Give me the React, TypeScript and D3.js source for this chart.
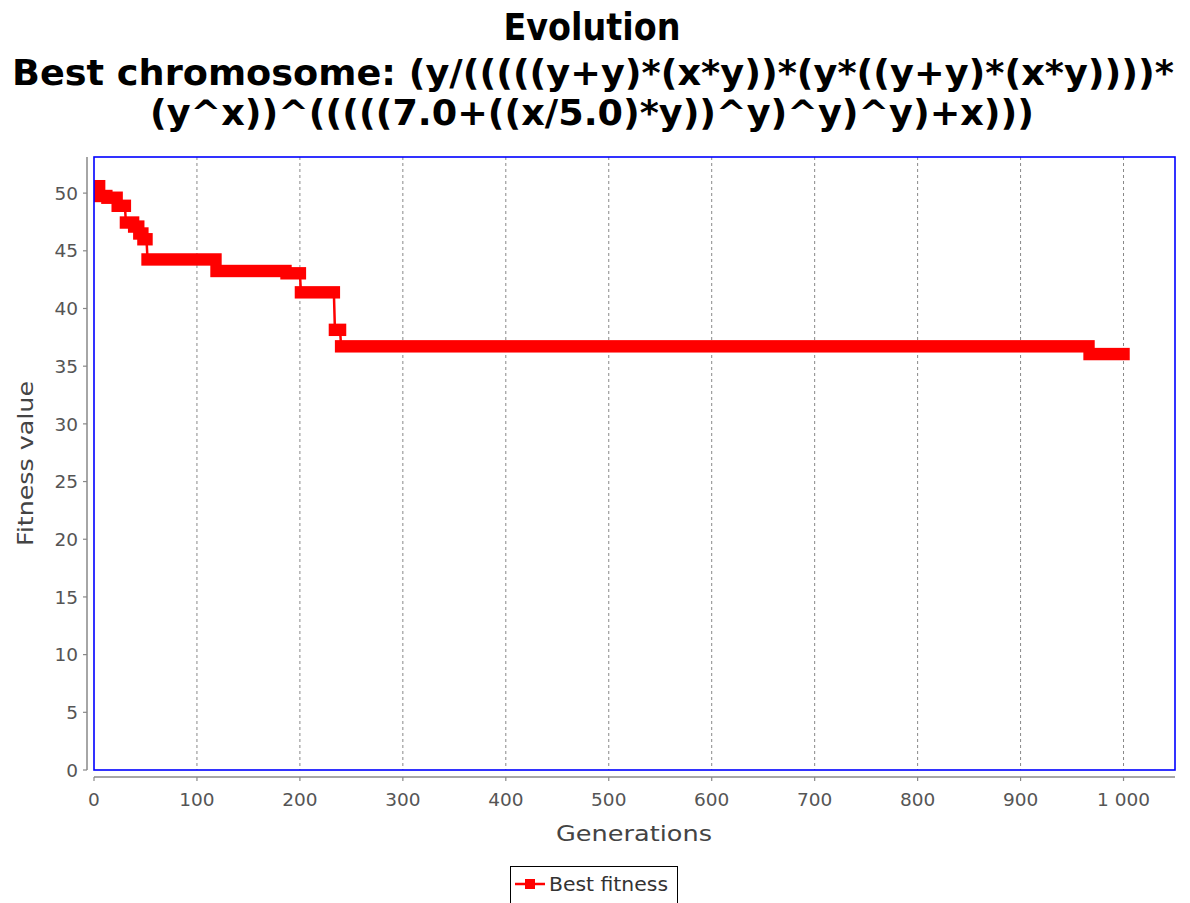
import React from "react";
import * as d3 from "d3";

// Best-fitness history: each entry starts a run of generations holding the same value
const stepStarts = [0, 6, 13, 23, 31, 39, 44, 48, 52, 119, 187, 201, 234, 240, 967];
const stepValues = [50.6, 49.75, 49.6, 48.9, 47.45, 47.1, 46.5, 46.0, 44.25, 43.25, 43.05, 41.4, 38.15, 36.72, 36.05];
const lastGeneration = 1000;

const xTicks = [0, 100, 200, 300, 400, 500, 600, 700, 800, 900, 1000];
const yTicks = [0, 5, 10, 15, 20, 25, 30, 35, 40, 45, 50];

const titleLines = [
  "Evolution",
  "Best chromosome: (y/(((((y+y)*(x*y))*(y*((y+y)*(x*y))))*",
  "(y^x))^(((((7.0+((x/5.0)*y))^y)^y)^y)+x)))",
];
const seriesName = "Best fitness";

const W = 1190;
const H = 903;
const plot = { left: 94, right: 1175, top: 157, bottom: 770 };

const spaceLocale = d3.formatLocale({
  decimal: ".",
  thousands: " ",
  grouping: [3],
  currency: ["", ""],
});
const fmtX = spaceLocale.format(",d");

export default function App() {
  const x = d3.scaleLinear().domain([0, 1050]).range([plot.left, plot.right]);
  const yMax = d3.max(stepValues)! * 1.05;
  const y = d3.scaleLinear().domain([0, yMax]).range([plot.bottom, plot.top]);

  const segments = stepStarts.map((s, i) => ({
    start: s,
    end: i < stepStarts.length - 1 ? stepStarts[i + 1] - 1 : lastGeneration,
    value: stepValues[i],
  }));

  const pts: [number, number][] = [];
  segments.forEach((sg) => {
    pts.push([sg.start, sg.value]);
    pts.push([sg.end, sg.value]);
  });
  const line = d3
    .line<[number, number]>()
    .x((d) => x(d[0]))
    .y((d) => y(d[1]));

  const half = 6.2;
  const fontTick = "'DejaVu Sans', sans-serif";
  const axisY = 777;
  const axisX = 87;

  return (
    <svg
      width={W}
      height={H}
      style={{ position: "absolute", left: 0, top: 0, display: "block", background: "#fff" }}
    >
      <rect x={0} y={0} width={W} height={H} fill="#fff" />
      {/* titles */}
      <g fontFamily="'DejaVu Sans', sans-serif" fontWeight="bold" fill="#000" textAnchor="middle">
        <text x={592} y={40} fontSize={37} textLength={177} lengthAdjust="spacingAndGlyphs">
          {titleLines[0]}
        </text>
        <text x={593} y={85} fontSize={36} textLength={1162} lengthAdjust="spacingAndGlyphs">
          {titleLines[1]}
        </text>
        <text x={592} y={125} fontSize={36} textLength={884} lengthAdjust="spacingAndGlyphs">
          {titleLines[2]}
        </text>
      </g>

      {/* vertical gridlines */}
      {xTicks
        .filter((t) => t > 0)
        .map((t) => (
          <line
            key={"g" + t}
            x1={x(t)}
            x2={x(t)}
            y1={plot.top}
            y2={plot.bottom}
            stroke="#888"
            strokeWidth={1}
            strokeDasharray="3,3"
          />
        ))}

      {/* series */}
      <defs>
        <clipPath id="plotClip">
          <rect x={plot.left} y={plot.top} width={plot.right - plot.left} height={plot.bottom - plot.top} />
        </clipPath>
      </defs>
      <g clipPath="url(#plotClip)">
        <path d={line(pts) || ""} fill="none" stroke="#ff0000" strokeWidth={2.5} />
        {segments.map((sg, i) => (
          <rect
            key={"s" + i}
            x={x(sg.start) - half}
            y={y(sg.value) - half}
            width={x(sg.end) - x(sg.start) + 2 * half}
            height={2 * half}
            fill="#ff0000"
          />
        ))}
      </g>

      {/* plot border */}
      <rect
        x={plot.left}
        y={plot.top}
        width={plot.right - plot.left}
        height={plot.bottom - plot.top}
        fill="none"
        stroke="#0000ff"
        strokeWidth={1.6}
      />

      {/* y axis */}
      <line x1={axisX} x2={axisX} y1={plot.top} y2={plot.bottom} stroke="#888" strokeWidth={1.5} />
      {yTicks.map((t) => (
        <g key={"y" + t}>
          <line x1={axisX - 4} x2={axisX} y1={y(t)} y2={y(t)} stroke="#888" strokeWidth={1.2} />
          <text
            x={axisX - 9}
            y={y(t)}
            dy="0.36em"
            textAnchor="end"
            fontFamily={fontTick}
            fontSize={18.5}
            fill="#555"
          >
            {t}
          </text>
        </g>
      ))}
      <text
        transform={`translate(33,${(plot.top + plot.bottom) / 2}) rotate(-90)`}
        textAnchor="middle"
        fontFamily={fontTick}
        fontSize={22}
        fill="#444"
        textLength={165}
        lengthAdjust="spacingAndGlyphs"
      >
        Fitness value
      </text>

      {/* x axis */}
      <line x1={plot.left} x2={plot.right} y1={axisY} y2={axisY} stroke="#888" strokeWidth={1.5} />
      {xTicks.map((t) => (
        <g key={"x" + t}>
          <line x1={x(t)} x2={x(t)} y1={axisY} y2={axisY + 4} stroke="#888" strokeWidth={1.2} />
          <text
            x={x(t)}
            y={axisY + 29}
            textAnchor="middle"
            fontFamily={fontTick}
            fontSize={18.5}
            fill="#555"
          >
            {fmtX(t)}
          </text>
        </g>
      ))}
      <text
        x={634}
        y={841}
        textAnchor="middle"
        fontFamily={fontTick}
        fontSize={22}
        fill="#444"
        textLength={156}
        lengthAdjust="spacingAndGlyphs"
      >
        Generations
      </text>

      {/* legend */}
      <rect x={510.5} y={866.5} width={167} height={40} fill="#fff" stroke="#000" strokeWidth={1} />
      <line x1={515} x2={545} y1={884} y2={884} stroke="#ff0000" strokeWidth={2.5} />
      <rect x={525} y={879} width={10} height={10} fill="#ff0000" />
      <text
        x={549}
        y={891}
        fontFamily={fontTick}
        fontSize={19}
        fill="#333"
        textLength={119}
        lengthAdjust="spacingAndGlyphs"
      >
        {seriesName}
      </text>
    </svg>
  );
}
